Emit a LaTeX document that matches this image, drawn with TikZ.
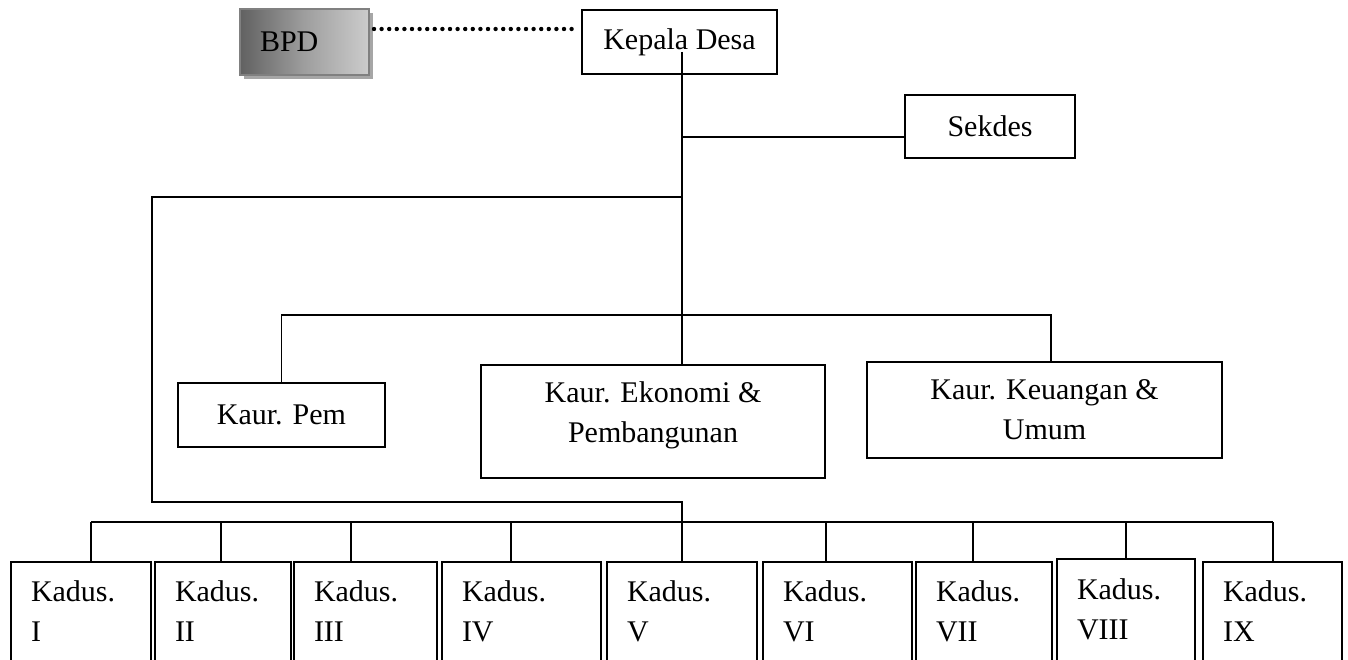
\documentclass[tikz,border=0pt]{standalone}
\usepackage{fontspec}
\setmainfont{Liberation Serif}
\usetikzlibrary{shadows}
\begin{document}
\begin{tikzpicture}[x=1pt,y=-1pt,
  every node/.style={font=\fontsize{30}{40}\selectfont, inner sep=0pt, outer sep=0pt},
  box/.style={draw, line width=1.8pt, align=center},
  bpdbox/.style={draw=black!50, line width=1.8pt, left color=black!62, right color=black!20, middle color=black!38,
    drop shadow={shadow xshift=4pt, shadow yshift=-4pt, fill=black!35, opacity=1}},
  kadus/.style={inner xsep=20pt, align=left, minimum height=98pt},
  conn/.style={line width=1.8pt},
  dotline/.style={line width=4.4pt, line cap=round, dash pattern=on 0pt off 7.6pt},
]
\useasboundingbox (0,0) rectangle (1348,660);

\node[box, minimum width=195pt, minimum height=64pt] (kd) at (679.5,42) {Kepala Desa};
\node[bpdbox, minimum width=129pt, minimum height=66pt, text width=89pt, inner xsep=20pt, align=left] (bpd) at (304.5,42) {BPD};
\node[box, minimum width=170pt, minimum height=63pt] (sek) at (990,126.5) {Sekdes};
\node[box, minimum width=207pt, minimum height=64pt] (pem) at (281.5,415) {Kaur. Pem};
\node[box, minimum width=344pt, minimum height=113pt, text depth=18.5pt] (eko) at (653,421.5) {Kaur. Ekonomi \&\\Pembangunan};
\node[box, minimum width=355pt, minimum height=96pt] (keu) at (1044.5,410) {Kaur. Keuangan \&\\Umum};

\node[kadus, text width=100pt] (k1) at (81,611) {Kadus.\\I};
\node[kadus, text width=96pt] (k2) at (223,611) {Kadus.\\II};
\node[kadus, text width=103pt] (k3) at (365.5,611) {Kadus.\\III};
\node[kadus, text width=119pt] (k4) at (521.5,611) {Kadus.\\IV};
\node[kadus, text width=110pt] (k5) at (682,611) {Kadus.\\V};
\node[kadus, text width=109pt] (k6) at (837.5,611) {Kadus.\\VI};
\node[kadus, text width=96pt] (k7) at (984,611) {Kadus.\\VII};
\node[kadus, text width=98pt, minimum height=101pt] (k8) at (1126,609.5) {Kadus.\\VIII};
\node[kadus, text width=99pt] (k9) at (1272.5,611) {Kadus.\\IX};

\foreach \i in {1,...,9}{
  \draw[conn] (k\i.south west) |- (k\i.north east) -- (k\i.south east);
}

% dotted link
\draw[dotline] ([xshift=5pt,yshift=13pt]bpd.east) -- ([xshift=-3pt,yshift=13pt]kd.west);

% trunk
\coordinate (t0) at (682,52);
\draw[conn] (t0) -- (t0 |- eko.north);
\coordinate (ts) at (682,137);
\draw[conn] (ts) -- (ts -| sek.west);
\coordinate (kb) at (682,315);
\draw[conn] (pem.north) |- (kb) -| ([xshift=6.5pt]keu.north);

% loop to kadus
\coordinate (lt) at (682,197);
\coordinate (ll) at (152,502);
\coordinate (lb) at (682,502);
\draw[conn] (lt) -| (ll) -- (lb) -- (lb |- k5.north);

% kadus bar
\coordinate (c1) at (91,522);
\coordinate (c2) at (221,522);
\coordinate (c3) at (351,522);
\coordinate (c4) at (511,522);
\coordinate (c5) at (682,522);
\coordinate (c6) at (826,522);
\coordinate (c7) at (973,522);
\coordinate (c8) at (1126,522);
\coordinate (c9) at (1273,522);
\draw[conn] (c1) -- (c9);
\foreach \i in {1,...,9}{
  \draw[conn] (c\i) -- (c\i |- k\i.north);
}
\end{tikzpicture}
\end{document}
